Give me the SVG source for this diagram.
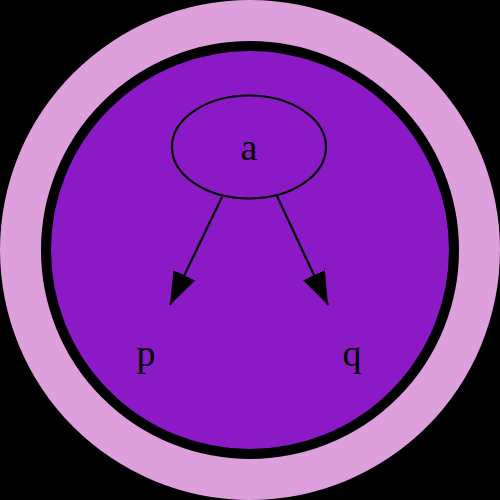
<svg xmlns="http://www.w3.org/2000/svg" width="500" height="500" viewBox="0 0 500 500">
<style>
.lbl{font-family:"Liberation Serif","Times New Roman",serif;font-size:38px;fill:#000;text-anchor:middle}
.edge{stroke:#000;stroke-width:2.2;fill:none}
</style>
<defs>
<marker id="ah" markerUnits="userSpaceOnUse" viewBox="0 -13 34 26" markerWidth="34" markerHeight="26" refX="33" refY="0" orient="auto">
<path d="M0,-12 L33,0 L0,12 Z" fill="#000"/>
</marker>
</defs>
<rect x="0" y="0" width="500" height="500" fill="#000"/>
<circle cx="250" cy="250" r="250" fill="#DDA0DD"/>
<circle cx="250" cy="250" r="204" fill="#8B19C6" stroke="#000" stroke-width="10"/>
<g id="connectors">
<line class="edge" x1="222" y1="197" x2="170" y2="305" marker-end="url(#ah)"/>
<line class="edge" x1="277" y1="196" x2="328" y2="305" marker-end="url(#ah)"/>
</g>
<g id="node-a">
<ellipse cx="249" cy="147" rx="77" ry="51.5" fill="none" stroke="#000" stroke-width="2.2"/>
<text class="lbl" x="249" y="160">a</text>
</g>
<g id="node-p">
<text class="lbl" x="146" y="366">p</text>
</g>
<g id="node-q">
<text class="lbl" x="352" y="366">q</text>
</g>
</svg>
